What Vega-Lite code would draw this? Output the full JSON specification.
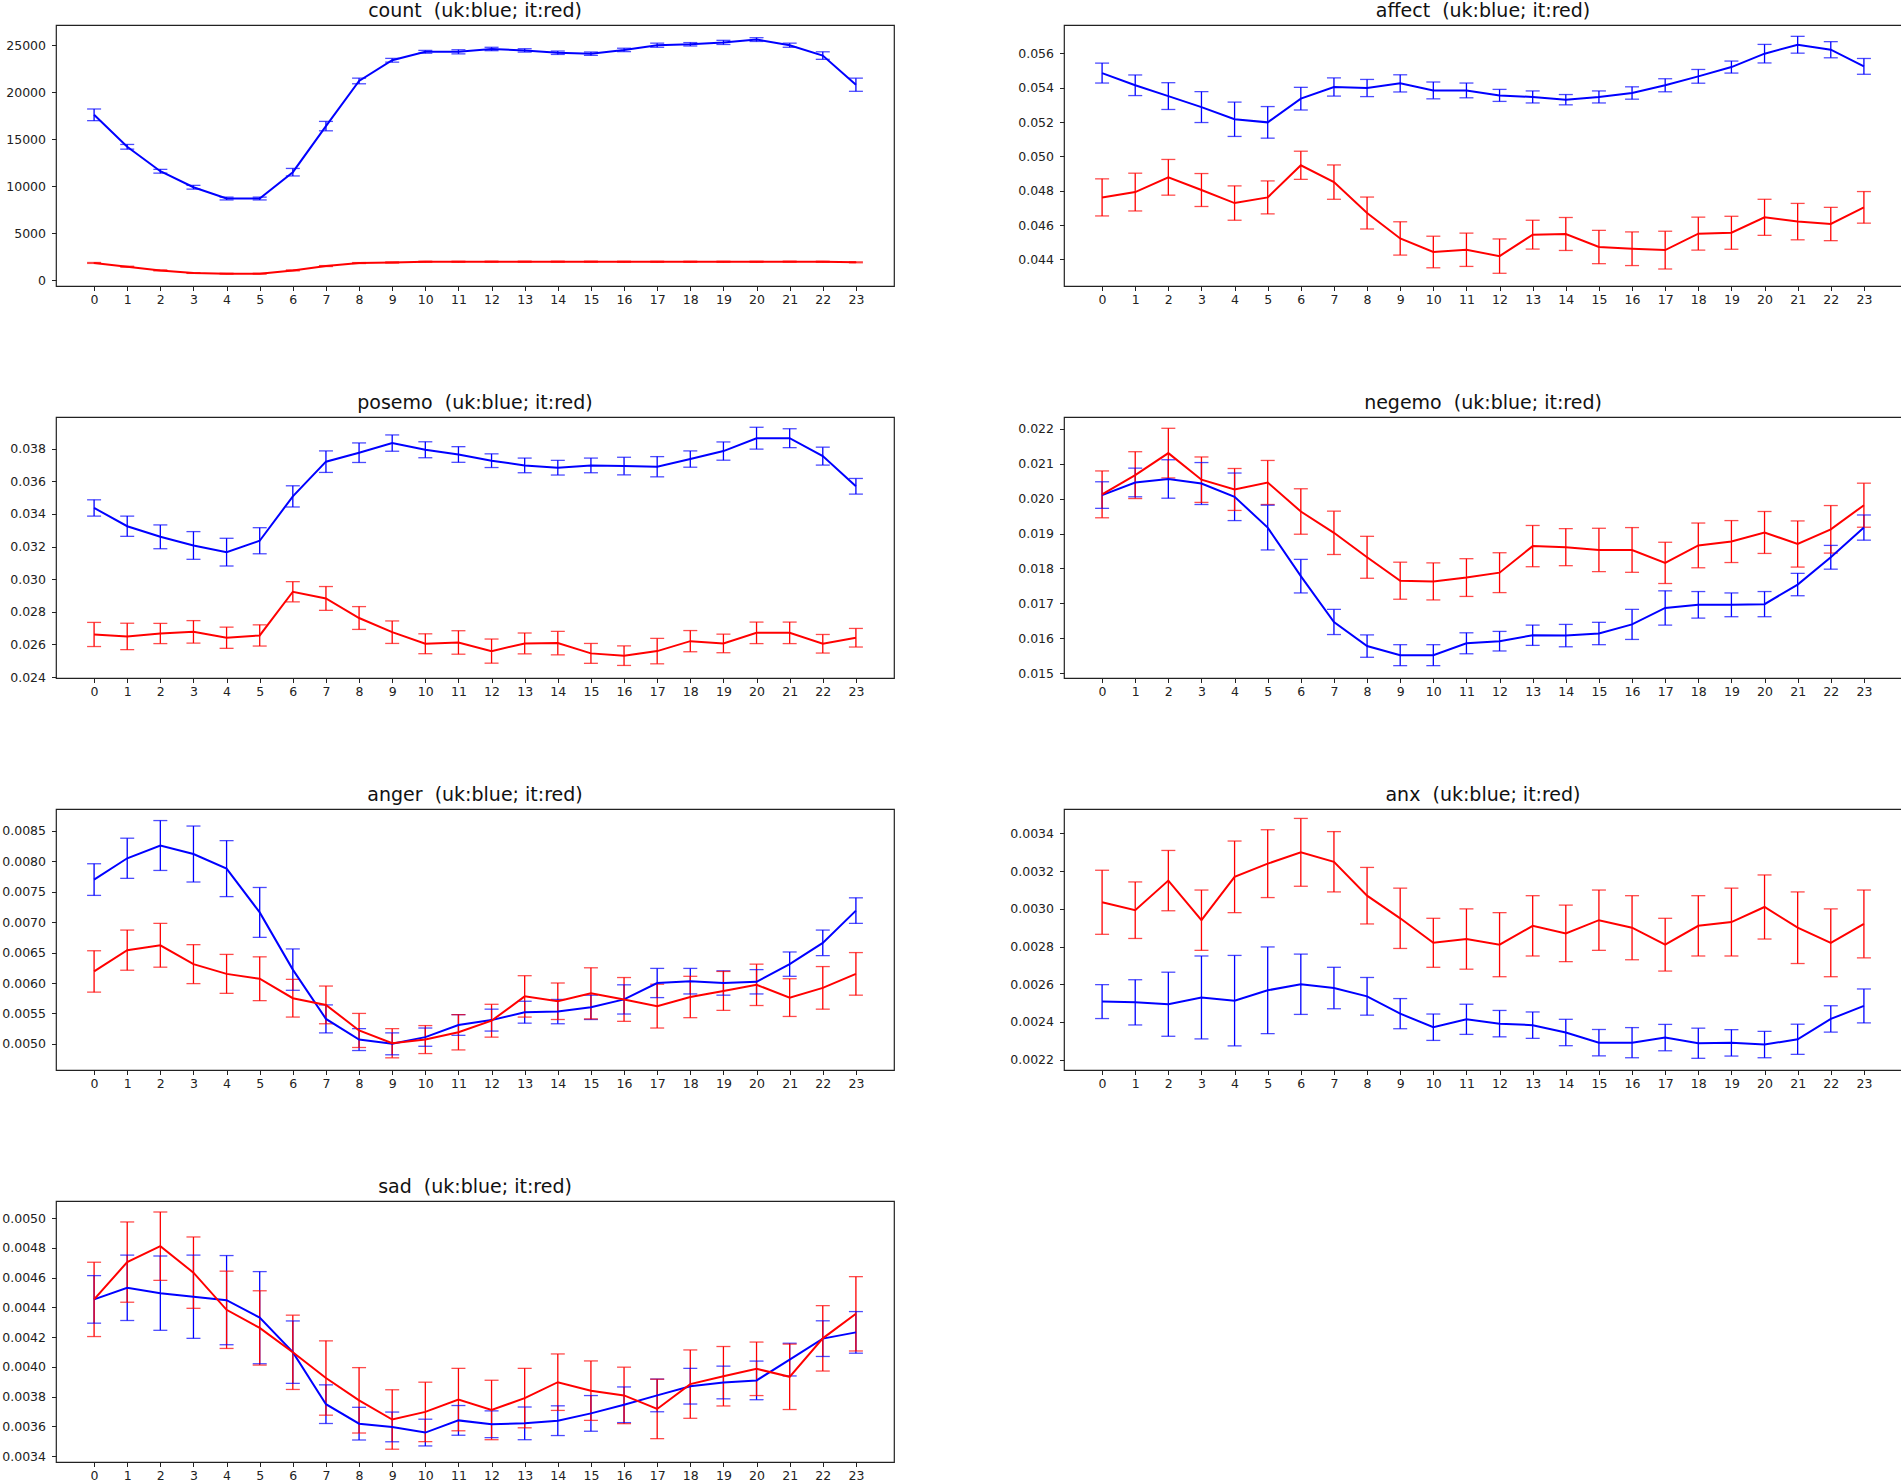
{
"$schema": "https://vega.github.io/schema/vega-lite/v6.json",
"padding": {"top": 1, "left": 0, "right": 0, "bottom": 0},
"config": {
 "font": "DejaVu Sans",
 "view": {"stroke": "#222", "strokeWidth": 1.2},
 "axis": {"grid": false, "domain": false, "ticks": true, "tickColor": "#222", "tickSize": 4.5, "tickWidth": 1, "labelFontSize": 12.5, "labelColor": "#222", "labelFont": "DejaVu Sans", "title": null, "labelOverlap": false},
 "axisX": {"labelPadding": 3, "labelAngle": 0, "minExtent": 25, "maxExtent": 25, "labelFlush": false},
 "axisY": {"labelPadding": 6, "minExtent": 55, "maxExtent": 55},
 "title": {"fontSize": 19, "fontWeight": "normal", "color": "#111", "offset": 4, "baseline": "alphabetic", "anchor": "middle", "font": "DejaVu Sans"}
},
"datasets": {
"count": [
{"h":0,"c":"uk","m":17600,"lo":16980,"hi":18220},{"h":1,"c":"uk","m":14200,"lo":13950,"hi":14450},{"h":2,"c":"uk","m":11600,"lo":11400,"hi":11800},{"h":3,"c":"uk","m":9900,"lo":9700,"hi":10100},{"h":4,"c":"uk","m":8700,"lo":8550,"hi":8850},{"h":5,"c":"uk","m":8700,"lo":8550,"hi":8850},{"h":6,"c":"uk","m":11500,"lo":11100,"hi":11900},{"h":7,"c":"uk","m":16400,"lo":15900,"hi":16900},{"h":8,"c":"uk","m":21200,"lo":20900,"hi":21500},{"h":9,"c":"uk","m":23400,"lo":23200,"hi":23600},{"h":10,"c":"uk","m":24300,"lo":24150,"hi":24450},{"h":11,"c":"uk","m":24300,"lo":24080,"hi":24520},{"h":12,"c":"uk","m":24600,"lo":24420,"hi":24780},{"h":13,"c":"uk","m":24450,"lo":24270,"hi":24630},{"h":14,"c":"uk","m":24200,"lo":24020,"hi":24380},{"h":15,"c":"uk","m":24100,"lo":23920,"hi":24280},{"h":16,"c":"uk","m":24500,"lo":24320,"hi":24680},{"h":17,"c":"uk","m":25000,"lo":24780,"hi":25220},{"h":18,"c":"uk","m":25100,"lo":24920,"hi":25280},{"h":19,"c":"uk","m":25300,"lo":25080,"hi":25520},{"h":20,"c":"uk","m":25600,"lo":25400,"hi":25800},{"h":21,"c":"uk","m":25000,"lo":24780,"hi":25220},{"h":22,"c":"uk","m":23900,"lo":23500,"hi":24300},{"h":23,"c":"uk","m":20800,"lo":20100,"hi":21500},
{"h":0,"c":"it","m":1850,"lo":1800,"hi":1900},{"h":1,"c":"it","m":1450,"lo":1400,"hi":1500},{"h":2,"c":"it","m":1060,"lo":1010,"hi":1110},{"h":3,"c":"it","m":780,"lo":740,"hi":820},{"h":4,"c":"it","m":710,"lo":670,"hi":750},{"h":5,"c":"it","m":710,"lo":670,"hi":750},{"h":6,"c":"it","m":1060,"lo":1010,"hi":1110},{"h":7,"c":"it","m":1520,"lo":1470,"hi":1570},{"h":8,"c":"it","m":1840,"lo":1790,"hi":1890},{"h":9,"c":"it","m":1900,"lo":1840,"hi":1960},{"h":10,"c":"it","m":1980,"lo":1930,"hi":2030},{"h":11,"c":"it","m":1980,"lo":1930,"hi":2030},{"h":12,"c":"it","m":1990,"lo":1940,"hi":2040},{"h":13,"c":"it","m":1990,"lo":1940,"hi":2040},{"h":14,"c":"it","m":1990,"lo":1940,"hi":2040},{"h":15,"c":"it","m":1990,"lo":1940,"hi":2040},{"h":16,"c":"it","m":1980,"lo":1930,"hi":2030},{"h":17,"c":"it","m":1980,"lo":1930,"hi":2030},{"h":18,"c":"it","m":1980,"lo":1930,"hi":2030},{"h":19,"c":"it","m":1980,"lo":1930,"hi":2030},{"h":20,"c":"it","m":1980,"lo":1930,"hi":2030},{"h":21,"c":"it","m":1990,"lo":1940,"hi":2040},{"h":22,"c":"it","m":1980,"lo":1930,"hi":2030},{"h":23,"c":"it","m":1920,"lo":1870,"hi":1970}
],
"affect": [
{"h":0,"c":"uk","m":0.05485,"lo":0.05427,"hi":0.05543},{"h":1,"c":"uk","m":0.05414,"lo":0.05354,"hi":0.05474},{"h":2,"c":"uk","m":0.05351,"lo":0.05273,"hi":0.05429},{"h":3,"c":"uk","m":0.05287,"lo":0.05197,"hi":0.05377},{"h":4,"c":"uk","m":0.05216,"lo":0.05116,"hi":0.05316},{"h":5,"c":"uk","m":0.05198,"lo":0.05106,"hi":0.0529},{"h":6,"c":"uk","m":0.05336,"lo":0.0527,"hi":0.05402},{"h":7,"c":"uk","m":0.05404,"lo":0.05351,"hi":0.05457},{"h":8,"c":"uk","m":0.05398,"lo":0.05348,"hi":0.05448},{"h":9,"c":"uk","m":0.05425,"lo":0.05375,"hi":0.05475},{"h":10,"c":"uk","m":0.05384,"lo":0.05335,"hi":0.05433},{"h":11,"c":"uk","m":0.05384,"lo":0.05341,"hi":0.05427},{"h":12,"c":"uk","m":0.05355,"lo":0.0532,"hi":0.0539},{"h":13,"c":"uk","m":0.05346,"lo":0.05311,"hi":0.05381},{"h":14,"c":"uk","m":0.0533,"lo":0.053,"hi":0.0536},{"h":15,"c":"uk","m":0.05346,"lo":0.05311,"hi":0.05381},{"h":16,"c":"uk","m":0.05369,"lo":0.05333,"hi":0.05405},{"h":17,"c":"uk","m":0.05414,"lo":0.05376,"hi":0.05452},{"h":18,"c":"uk","m":0.05466,"lo":0.05426,"hi":0.05506},{"h":19,"c":"uk","m":0.0552,"lo":0.05485,"hi":0.05555},{"h":20,"c":"uk","m":0.05598,"lo":0.05544,"hi":0.05652},{"h":21,"c":"uk","m":0.0565,"lo":0.05601,"hi":0.05699},{"h":22,"c":"uk","m":0.05621,"lo":0.05574,"hi":0.05668},{"h":23,"c":"uk","m":0.05524,"lo":0.05478,"hi":0.0557},
{"h":0,"c":"it","m":0.04761,"lo":0.04653,"hi":0.04869},{"h":1,"c":"it","m":0.04792,"lo":0.04682,"hi":0.04902},{"h":2,"c":"it","m":0.04878,"lo":0.04774,"hi":0.04982},{"h":3,"c":"it","m":0.04804,"lo":0.04708,"hi":0.049},{"h":4,"c":"it","m":0.04728,"lo":0.04628,"hi":0.04828},{"h":5,"c":"it","m":0.04761,"lo":0.04665,"hi":0.04857},{"h":6,"c":"it","m":0.04948,"lo":0.04866,"hi":0.0503},{"h":7,"c":"it","m":0.0485,"lo":0.0475,"hi":0.0495},{"h":8,"c":"it","m":0.0467,"lo":0.04577,"hi":0.04763},{"h":9,"c":"it","m":0.04522,"lo":0.04425,"hi":0.04619},{"h":10,"c":"it","m":0.04443,"lo":0.04351,"hi":0.04535},{"h":11,"c":"it","m":0.04456,"lo":0.04359,"hi":0.04553},{"h":12,"c":"it","m":0.04419,"lo":0.04319,"hi":0.04519},{"h":13,"c":"it","m":0.04544,"lo":0.0446,"hi":0.04628},{"h":14,"c":"it","m":0.04548,"lo":0.04452,"hi":0.04644},{"h":15,"c":"it","m":0.04472,"lo":0.04375,"hi":0.04569},{"h":16,"c":"it","m":0.04462,"lo":0.04364,"hi":0.0456},{"h":17,"c":"it","m":0.04454,"lo":0.04344,"hi":0.04564},{"h":18,"c":"it","m":0.0455,"lo":0.04454,"hi":0.04646},{"h":19,"c":"it","m":0.04555,"lo":0.04459,"hi":0.04651},{"h":20,"c":"it","m":0.04645,"lo":0.0454,"hi":0.0475},{"h":21,"c":"it","m":0.0462,"lo":0.04514,"hi":0.04726},{"h":22,"c":"it","m":0.04606,"lo":0.04509,"hi":0.04703},{"h":23,"c":"it","m":0.04703,"lo":0.04611,"hi":0.04795}
],
"posemo": [
{"h":0,"c":"uk","m":0.03437,"lo":0.03387,"hi":0.03487},{"h":1,"c":"uk","m":0.03325,"lo":0.03263,"hi":0.03387},{"h":2,"c":"uk","m":0.0326,"lo":0.03187,"hi":0.03333},{"h":3,"c":"uk","m":0.03207,"lo":0.03122,"hi":0.03292},{"h":4,"c":"uk","m":0.03166,"lo":0.03081,"hi":0.03251},{"h":5,"c":"uk","m":0.03236,"lo":0.03156,"hi":0.03316},{"h":6,"c":"uk","m":0.03508,"lo":0.03443,"hi":0.03573},{"h":7,"c":"uk","m":0.03721,"lo":0.03655,"hi":0.03787},{"h":8,"c":"uk","m":0.03776,"lo":0.03716,"hi":0.03836},{"h":9,"c":"uk","m":0.03835,"lo":0.03785,"hi":0.03885},{"h":10,"c":"uk","m":0.03794,"lo":0.03745,"hi":0.03843},{"h":11,"c":"uk","m":0.03765,"lo":0.03717,"hi":0.03813},{"h":12,"c":"uk","m":0.03727,"lo":0.03685,"hi":0.03769},{"h":13,"c":"uk","m":0.03698,"lo":0.03653,"hi":0.03743},{"h":14,"c":"uk","m":0.03684,"lo":0.03639,"hi":0.03729},{"h":15,"c":"uk","m":0.03698,"lo":0.03653,"hi":0.03743},{"h":16,"c":"uk","m":0.03694,"lo":0.0364,"hi":0.03748},{"h":17,"c":"uk","m":0.0369,"lo":0.03628,"hi":0.03752},{"h":18,"c":"uk","m":0.03737,"lo":0.03687,"hi":0.03787},{"h":19,"c":"uk","m":0.03786,"lo":0.0373,"hi":0.03842},{"h":20,"c":"uk","m":0.03865,"lo":0.03798,"hi":0.03932},{"h":21,"c":"uk","m":0.03865,"lo":0.03807,"hi":0.03923},{"h":22,"c":"uk","m":0.03755,"lo":0.037,"hi":0.0381},{"h":23,"c":"uk","m":0.0357,"lo":0.03522,"hi":0.03618},
{"h":0,"c":"it","m":0.02661,"lo":0.02587,"hi":0.02735},{"h":1,"c":"it","m":0.02649,"lo":0.02568,"hi":0.0273},{"h":2,"c":"it","m":0.02667,"lo":0.02605,"hi":0.02729},{"h":3,"c":"it","m":0.02677,"lo":0.02608,"hi":0.02746},{"h":4,"c":"it","m":0.02641,"lo":0.02576,"hi":0.02706},{"h":5,"c":"it","m":0.02655,"lo":0.0259,"hi":0.0272},{"h":6,"c":"it","m":0.02923,"lo":0.02861,"hi":0.02985},{"h":7,"c":"it","m":0.02882,"lo":0.02809,"hi":0.02955},{"h":8,"c":"it","m":0.02762,"lo":0.02692,"hi":0.02832},{"h":9,"c":"it","m":0.02675,"lo":0.02606,"hi":0.02744},{"h":10,"c":"it","m":0.02604,"lo":0.02543,"hi":0.02665},{"h":11,"c":"it","m":0.02612,"lo":0.0254,"hi":0.02684},{"h":12,"c":"it","m":0.02559,"lo":0.02485,"hi":0.02633},{"h":13,"c":"it","m":0.02606,"lo":0.02542,"hi":0.0267},{"h":14,"c":"it","m":0.02608,"lo":0.02536,"hi":0.0268},{"h":15,"c":"it","m":0.02545,"lo":0.02484,"hi":0.02606},{"h":16,"c":"it","m":0.02531,"lo":0.02471,"hi":0.02591},{"h":17,"c":"it","m":0.02559,"lo":0.02481,"hi":0.02637},{"h":18,"c":"it","m":0.0262,"lo":0.02555,"hi":0.02685},{"h":19,"c":"it","m":0.02606,"lo":0.02549,"hi":0.02663},{"h":20,"c":"it","m":0.02671,"lo":0.02605,"hi":0.02737},{"h":21,"c":"it","m":0.02671,"lo":0.02605,"hi":0.02737},{"h":22,"c":"it","m":0.02604,"lo":0.02547,"hi":0.02661},{"h":23,"c":"it","m":0.02641,"lo":0.02584,"hi":0.02698}
],
"negemo": [
{"h":0,"c":"uk","m":0.0201,"lo":0.01972,"hi":0.02048},{"h":1,"c":"uk","m":0.02046,"lo":0.02005,"hi":0.02087},{"h":2,"c":"uk","m":0.02056,"lo":0.02001,"hi":0.02111},{"h":3,"c":"uk","m":0.02043,"lo":0.01983,"hi":0.02103},{"h":4,"c":"uk","m":0.02005,"lo":0.01937,"hi":0.02073},{"h":5,"c":"uk","m":0.01917,"lo":0.01853,"hi":0.01981},{"h":6,"c":"uk","m":0.01778,"lo":0.0173,"hi":0.01826},{"h":7,"c":"uk","m":0.01647,"lo":0.01611,"hi":0.01683},{"h":8,"c":"uk","m":0.01578,"lo":0.01546,"hi":0.0161},{"h":9,"c":"uk","m":0.01552,"lo":0.01522,"hi":0.01582},{"h":10,"c":"uk","m":0.01552,"lo":0.01522,"hi":0.01582},{"h":11,"c":"uk","m":0.01586,"lo":0.01556,"hi":0.01616},{"h":12,"c":"uk","m":0.01592,"lo":0.01564,"hi":0.0162},{"h":13,"c":"uk","m":0.01609,"lo":0.0158,"hi":0.01638},{"h":14,"c":"uk","m":0.01608,"lo":0.01576,"hi":0.0164},{"h":15,"c":"uk","m":0.01614,"lo":0.01582,"hi":0.01646},{"h":16,"c":"uk","m":0.0164,"lo":0.01597,"hi":0.01683},{"h":17,"c":"uk","m":0.01687,"lo":0.01638,"hi":0.01736},{"h":18,"c":"uk","m":0.01696,"lo":0.01658,"hi":0.01734},{"h":19,"c":"uk","m":0.01696,"lo":0.01662,"hi":0.0173},{"h":20,"c":"uk","m":0.01698,"lo":0.01662,"hi":0.01734},{"h":21,"c":"uk","m":0.01754,"lo":0.01722,"hi":0.01786},{"h":22,"c":"uk","m":0.01832,"lo":0.01798,"hi":0.01866},{"h":23,"c":"uk","m":0.01917,"lo":0.01881,"hi":0.01953},
{"h":0,"c":"it","m":0.02012,"lo":0.01945,"hi":0.02079},{"h":1,"c":"it","m":0.02067,"lo":0.02,"hi":0.02134},{"h":2,"c":"it","m":0.0213,"lo":0.02059,"hi":0.02201},{"h":3,"c":"it","m":0.02054,"lo":0.01989,"hi":0.02119},{"h":4,"c":"it","m":0.02026,"lo":0.01966,"hi":0.02086},{"h":5,"c":"it","m":0.02046,"lo":0.01983,"hi":0.02109},{"h":6,"c":"it","m":0.01963,"lo":0.01898,"hi":0.02028},{"h":7,"c":"it","m":0.01902,"lo":0.0184,"hi":0.01964},{"h":8,"c":"it","m":0.01832,"lo":0.01772,"hi":0.01892},{"h":9,"c":"it","m":0.01765,"lo":0.01712,"hi":0.01818},{"h":10,"c":"it","m":0.01763,"lo":0.0171,"hi":0.01816},{"h":11,"c":"it","m":0.01774,"lo":0.0172,"hi":0.01828},{"h":12,"c":"it","m":0.01788,"lo":0.01731,"hi":0.01845},{"h":13,"c":"it","m":0.01864,"lo":0.01805,"hi":0.01923},{"h":14,"c":"it","m":0.01861,"lo":0.01808,"hi":0.01914},{"h":15,"c":"it","m":0.01853,"lo":0.01791,"hi":0.01915},{"h":16,"c":"it","m":0.01853,"lo":0.01789,"hi":0.01917},{"h":17,"c":"it","m":0.01816,"lo":0.01757,"hi":0.01875},{"h":18,"c":"it","m":0.01866,"lo":0.01802,"hi":0.0193},{"h":19,"c":"it","m":0.01877,"lo":0.01817,"hi":0.01937},{"h":20,"c":"it","m":0.01903,"lo":0.01843,"hi":0.01963},{"h":21,"c":"it","m":0.0187,"lo":0.01804,"hi":0.01936},{"h":22,"c":"it","m":0.01912,"lo":0.01844,"hi":0.0198},{"h":23,"c":"it","m":0.01981,"lo":0.01918,"hi":0.02044}
],
"anger": [
{"h":0,"c":"uk","m":0.0077,"lo":0.00744,"hi":0.00796},{"h":1,"c":"uk","m":0.00805,"lo":0.00772,"hi":0.00838},{"h":2,"c":"uk","m":0.00826,"lo":0.00785,"hi":0.00867},{"h":3,"c":"uk","m":0.00812,"lo":0.00766,"hi":0.00858},{"h":4,"c":"uk","m":0.00788,"lo":0.00742,"hi":0.00834},{"h":5,"c":"uk","m":0.00716,"lo":0.00675,"hi":0.00757},{"h":6,"c":"uk","m":0.00622,"lo":0.00588,"hi":0.00656},{"h":7,"c":"uk","m":0.00541,"lo":0.00518,"hi":0.00564},{"h":8,"c":"uk","m":0.00507,"lo":0.00489,"hi":0.00525},{"h":9,"c":"uk","m":0.005,"lo":0.00482,"hi":0.00518},{"h":10,"c":"uk","m":0.00511,"lo":0.00496,"hi":0.00526},{"h":11,"c":"uk","m":0.00531,"lo":0.00514,"hi":0.00548},{"h":12,"c":"uk","m":0.00539,"lo":0.00521,"hi":0.00557},{"h":13,"c":"uk","m":0.00552,"lo":0.00534,"hi":0.0057},{"h":14,"c":"uk","m":0.00553,"lo":0.00533,"hi":0.00573},{"h":15,"c":"uk","m":0.0056,"lo":0.0054,"hi":0.0058},{"h":16,"c":"uk","m":0.00573,"lo":0.00549,"hi":0.00597},{"h":17,"c":"uk","m":0.006,"lo":0.00576,"hi":0.00624},{"h":18,"c":"uk","m":0.00603,"lo":0.00582,"hi":0.00624},{"h":19,"c":"uk","m":0.006,"lo":0.0058,"hi":0.0062},{"h":20,"c":"uk","m":0.00602,"lo":0.00582,"hi":0.00622},{"h":21,"c":"uk","m":0.00631,"lo":0.00611,"hi":0.00651},{"h":22,"c":"uk","m":0.00666,"lo":0.00645,"hi":0.00687},{"h":23,"c":"uk","m":0.00719,"lo":0.00698,"hi":0.0074},
{"h":0,"c":"it","m":0.00619,"lo":0.00585,"hi":0.00653},{"h":1,"c":"it","m":0.00654,"lo":0.00621,"hi":0.00687},{"h":2,"c":"it","m":0.00662,"lo":0.00626,"hi":0.00698},{"h":3,"c":"it","m":0.00631,"lo":0.00599,"hi":0.00663},{"h":4,"c":"it","m":0.00615,"lo":0.00583,"hi":0.00647},{"h":5,"c":"it","m":0.00607,"lo":0.00571,"hi":0.00643},{"h":6,"c":"it","m":0.00575,"lo":0.00544,"hi":0.00606},{"h":7,"c":"it","m":0.00564,"lo":0.00533,"hi":0.00595},{"h":8,"c":"it","m":0.00522,"lo":0.00494,"hi":0.0055},{"h":9,"c":"it","m":0.00501,"lo":0.00477,"hi":0.00525},{"h":10,"c":"it","m":0.00507,"lo":0.00484,"hi":0.0053},{"h":11,"c":"it","m":0.00519,"lo":0.0049,"hi":0.00548},{"h":12,"c":"it","m":0.00538,"lo":0.00511,"hi":0.00565},{"h":13,"c":"it","m":0.00578,"lo":0.00544,"hi":0.00612},{"h":14,"c":"it","m":0.0057,"lo":0.0054,"hi":0.006},{"h":15,"c":"it","m":0.00583,"lo":0.00541,"hi":0.00625},{"h":16,"c":"it","m":0.00573,"lo":0.00537,"hi":0.00609},{"h":17,"c":"it","m":0.00562,"lo":0.00526,"hi":0.00598},{"h":18,"c":"it","m":0.00577,"lo":0.00543,"hi":0.00611},{"h":19,"c":"it","m":0.00587,"lo":0.00555,"hi":0.00619},{"h":20,"c":"it","m":0.00597,"lo":0.00563,"hi":0.00631},{"h":21,"c":"it","m":0.00576,"lo":0.00545,"hi":0.00607},{"h":22,"c":"it","m":0.00592,"lo":0.00557,"hi":0.00627},{"h":23,"c":"it","m":0.00615,"lo":0.0058,"hi":0.0065}
],
"anx": [
{"h":0,"c":"uk","m":0.002508,"lo":0.002418,"hi":0.002598},{"h":1,"c":"uk","m":0.002504,"lo":0.002384,"hi":0.002624},{"h":2,"c":"uk","m":0.002494,"lo":0.002324,"hi":0.002664},{"h":3,"c":"uk","m":0.00253,"lo":0.00231,"hi":0.00275},{"h":4,"c":"uk","m":0.002513,"lo":0.002273,"hi":0.002753},{"h":5,"c":"uk","m":0.002568,"lo":0.002338,"hi":0.002798},{"h":6,"c":"uk","m":0.0026,"lo":0.00244,"hi":0.00276},{"h":7,"c":"uk","m":0.00258,"lo":0.00247,"hi":0.00269},{"h":8,"c":"uk","m":0.002536,"lo":0.002436,"hi":0.002636},{"h":9,"c":"uk","m":0.002444,"lo":0.002364,"hi":0.002524},{"h":10,"c":"uk","m":0.002372,"lo":0.002302,"hi":0.002442},{"h":11,"c":"uk","m":0.002414,"lo":0.002334,"hi":0.002494},{"h":12,"c":"uk","m":0.002391,"lo":0.002321,"hi":0.002461},{"h":13,"c":"uk","m":0.002383,"lo":0.002313,"hi":0.002453},{"h":14,"c":"uk","m":0.002344,"lo":0.002274,"hi":0.002414},{"h":15,"c":"uk","m":0.00229,"lo":0.00222,"hi":0.00236},{"h":16,"c":"uk","m":0.00229,"lo":0.00221,"hi":0.00237},{"h":17,"c":"uk","m":0.002317,"lo":0.002247,"hi":0.002387},{"h":18,"c":"uk","m":0.002287,"lo":0.002207,"hi":0.002367},{"h":19,"c":"uk","m":0.002289,"lo":0.002219,"hi":0.002359},{"h":20,"c":"uk","m":0.00228,"lo":0.00221,"hi":0.00235},{"h":21,"c":"uk","m":0.002308,"lo":0.002228,"hi":0.002388},{"h":22,"c":"uk","m":0.002416,"lo":0.002346,"hi":0.002486},{"h":23,"c":"uk","m":0.002485,"lo":0.002395,"hi":0.002575},
{"h":0,"c":"it","m":0.003035,"lo":0.002865,"hi":0.003205},{"h":1,"c":"it","m":0.002993,"lo":0.002843,"hi":0.003143},{"h":2,"c":"it","m":0.00315,"lo":0.00299,"hi":0.00331},{"h":3,"c":"it","m":0.00294,"lo":0.00278,"hi":0.0031},{"h":4,"c":"it","m":0.00317,"lo":0.00298,"hi":0.00336},{"h":5,"c":"it","m":0.00324,"lo":0.00306,"hi":0.00342},{"h":6,"c":"it","m":0.0033,"lo":0.00312,"hi":0.00348},{"h":7,"c":"it","m":0.00325,"lo":0.00309,"hi":0.00341},{"h":8,"c":"it","m":0.00307,"lo":0.00292,"hi":0.00322},{"h":9,"c":"it","m":0.00295,"lo":0.00279,"hi":0.00311},{"h":10,"c":"it","m":0.00282,"lo":0.00269,"hi":0.00295},{"h":11,"c":"it","m":0.00284,"lo":0.00268,"hi":0.003},{"h":12,"c":"it","m":0.00281,"lo":0.00264,"hi":0.00298},{"h":13,"c":"it","m":0.00291,"lo":0.00275,"hi":0.00307},{"h":14,"c":"it","m":0.00287,"lo":0.00272,"hi":0.00302},{"h":15,"c":"it","m":0.00294,"lo":0.00278,"hi":0.0031},{"h":16,"c":"it","m":0.0029,"lo":0.00273,"hi":0.00307},{"h":17,"c":"it","m":0.00281,"lo":0.00267,"hi":0.00295},{"h":18,"c":"it","m":0.00291,"lo":0.00275,"hi":0.00307},{"h":19,"c":"it","m":0.00293,"lo":0.00275,"hi":0.00311},{"h":20,"c":"it","m":0.00301,"lo":0.00284,"hi":0.00318},{"h":21,"c":"it","m":0.0029,"lo":0.00271,"hi":0.00309},{"h":22,"c":"it","m":0.00282,"lo":0.00264,"hi":0.003},{"h":23,"c":"it","m":0.00292,"lo":0.00274,"hi":0.0031}
],
"sad": [
{"h":0,"c":"uk","m":0.004454,"lo":0.004294,"hi":0.004614},{"h":1,"c":"uk","m":0.004532,"lo":0.004312,"hi":0.004752},{"h":2,"c":"uk","m":0.004496,"lo":0.004246,"hi":0.004746},{"h":3,"c":"uk","m":0.004472,"lo":0.004192,"hi":0.004752},{"h":4,"c":"uk","m":0.004449,"lo":0.004149,"hi":0.004749},{"h":5,"c":"uk","m":0.004331,"lo":0.004021,"hi":0.004641},{"h":6,"c":"uk","m":0.004099,"lo":0.003889,"hi":0.004309},{"h":7,"c":"uk","m":0.003749,"lo":0.003619,"hi":0.003879},{"h":8,"c":"uk","m":0.003618,"lo":0.003508,"hi":0.003728},{"h":9,"c":"uk","m":0.003596,"lo":0.003496,"hi":0.003696},{"h":10,"c":"uk","m":0.003558,"lo":0.003468,"hi":0.003648},{"h":11,"c":"uk","m":0.00364,"lo":0.00354,"hi":0.00374},{"h":12,"c":"uk","m":0.003614,"lo":0.003524,"hi":0.003704},{"h":13,"c":"uk","m":0.00362,"lo":0.00351,"hi":0.00373},{"h":14,"c":"uk","m":0.003638,"lo":0.003538,"hi":0.003738},{"h":15,"c":"uk","m":0.003687,"lo":0.003567,"hi":0.003807},{"h":16,"c":"uk","m":0.003745,"lo":0.003625,"hi":0.003865},{"h":17,"c":"uk","m":0.003808,"lo":0.003698,"hi":0.003918},{"h":18,"c":"uk","m":0.00387,"lo":0.00375,"hi":0.00399},{"h":19,"c":"uk","m":0.003895,"lo":0.003785,"hi":0.004005},{"h":20,"c":"uk","m":0.003909,"lo":0.003779,"hi":0.004039},{"h":21,"c":"uk","m":0.004049,"lo":0.003939,"hi":0.004159},{"h":22,"c":"uk","m":0.00419,"lo":0.00407,"hi":0.00431},{"h":23,"c":"uk","m":0.004232,"lo":0.004092,"hi":0.004372},
{"h":0,"c":"it","m":0.004454,"lo":0.004204,"hi":0.004704},{"h":1,"c":"it","m":0.004705,"lo":0.004435,"hi":0.004975},{"h":2,"c":"it","m":0.004812,"lo":0.004582,"hi":0.005042},{"h":3,"c":"it","m":0.004634,"lo":0.004394,"hi":0.004874},{"h":4,"c":"it","m":0.004384,"lo":0.004124,"hi":0.004644},{"h":5,"c":"it","m":0.004262,"lo":0.004012,"hi":0.004512},{"h":6,"c":"it","m":0.004098,"lo":0.003848,"hi":0.004348},{"h":7,"c":"it","m":0.003925,"lo":0.003675,"hi":0.004175},{"h":8,"c":"it","m":0.003775,"lo":0.003555,"hi":0.003995},{"h":9,"c":"it","m":0.003646,"lo":0.003446,"hi":0.003846},{"h":10,"c":"it","m":0.003697,"lo":0.003497,"hi":0.003897},{"h":11,"c":"it","m":0.00378,"lo":0.00357,"hi":0.00399},{"h":12,"c":"it","m":0.00371,"lo":0.00351,"hi":0.00391},{"h":13,"c":"it","m":0.00379,"lo":0.00359,"hi":0.00399},{"h":14,"c":"it","m":0.003897,"lo":0.003707,"hi":0.004087},{"h":15,"c":"it","m":0.00384,"lo":0.00364,"hi":0.00404},{"h":16,"c":"it","m":0.003808,"lo":0.003618,"hi":0.003998},{"h":17,"c":"it","m":0.003717,"lo":0.003517,"hi":0.003917},{"h":18,"c":"it","m":0.003884,"lo":0.003654,"hi":0.004114},{"h":19,"c":"it","m":0.003937,"lo":0.003737,"hi":0.004137},{"h":20,"c":"it","m":0.003987,"lo":0.003807,"hi":0.004167},{"h":21,"c":"it","m":0.003933,"lo":0.003713,"hi":0.004153},{"h":22,"c":"it","m":0.004192,"lo":0.003972,"hi":0.004412},{"h":23,"c":"it","m":0.004357,"lo":0.004107,"hi":0.004607}
]
},
"columns": 2,
"spacing": {"row": 81, "column": 113},
"concat": [
{
 "title": "count\u00a0 (uk:blue; it:red)",
 "width": 838, "height": 261,
 "data": {"name": "count"},
 "encoding": {
  "x": {"field": "h", "type": "quantitative", "scale": {"domain": [-1.15, 24.15], "nice": false, "zero": false}, "axis": {"values": [0,1,2,3,4,5,6,7,8,9,10,11,12,13,14,15,16,17,18,19,20,21,22,23], "format": "d"}},
  "color": {"field": "c", "type": "nominal", "scale": {"domain": ["uk","it"], "range": ["#0000ff","#ff0000"]}, "legend": null}
 },
 "layer": [
  {"mark": {"type": "rule", "strokeWidth": 1.3}, "encoding": {"y": {"field": "lo", "type": "quantitative", "scale": {"domain": [-600, 27150], "nice": false, "zero": false}, "axis": {"values": [0,5000,10000,15000,20000,25000], "format": "d"}}, "y2": {"field": "hi"}}},
  {"mark": {"type": "tick", "orient": "horizontal", "size": 14, "thickness": 1.3}, "encoding": {"y": {"field": "lo", "type": "quantitative", "scale": {"domain": [-600, 27150], "nice": false, "zero": false}, "axis": {"values": [0,5000,10000,15000,20000,25000], "format": "d"}}}},
  {"mark": {"type": "tick", "orient": "horizontal", "size": 14, "thickness": 1.3}, "encoding": {"y": {"field": "hi", "type": "quantitative", "scale": {"domain": [-600, 27150], "nice": false, "zero": false}, "axis": {"values": [0,5000,10000,15000,20000,25000], "format": "d"}}}},
  {"mark": {"type": "line", "strokeWidth": 2}, "encoding": {"y": {"field": "m", "type": "quantitative", "scale": {"domain": [-600, 27150], "nice": false, "zero": false}, "axis": {"values": [0,5000,10000,15000,20000,25000], "format": "d"}}}}
 ]
},
{
 "title": "affect\u00a0 (uk:blue; it:red)",
 "width": 838, "height": 261,
 "data": {"name": "affect"},
 "encoding": {
  "x": {"field": "h", "type": "quantitative", "scale": {"domain": [-1.15, 24.15], "nice": false, "zero": false}, "axis": {"values": [0,1,2,3,4,5,6,7,8,9,10,11,12,13,14,15,16,17,18,19,20,21,22,23], "format": "d"}},
  "color": {"field": "c", "type": "nominal", "scale": {"domain": ["uk","it"], "range": ["#0000ff","#ff0000"]}, "legend": null}
 },
 "layer": [
  {"mark": {"type": "rule", "strokeWidth": 1.3}, "encoding": {"y": {"field": "lo", "type": "quantitative", "scale": {"domain": [0.04245, 0.05765], "nice": false, "zero": false}, "axis": {"values": [0.044,0.046,0.048,0.05,0.052,0.054,0.056], "format": ".3f"}}, "y2": {"field": "hi"}}},
  {"mark": {"type": "tick", "orient": "horizontal", "size": 14, "thickness": 1.3}, "encoding": {"y": {"field": "lo", "type": "quantitative", "scale": {"domain": [0.04245, 0.05765], "nice": false, "zero": false}, "axis": {"values": [0.044,0.046,0.048,0.05,0.052,0.054,0.056], "format": ".3f"}}}},
  {"mark": {"type": "tick", "orient": "horizontal", "size": 14, "thickness": 1.3}, "encoding": {"y": {"field": "hi", "type": "quantitative", "scale": {"domain": [0.04245, 0.05765], "nice": false, "zero": false}, "axis": {"values": [0.044,0.046,0.048,0.05,0.052,0.054,0.056], "format": ".3f"}}}},
  {"mark": {"type": "line", "strokeWidth": 2}, "encoding": {"y": {"field": "m", "type": "quantitative", "scale": {"domain": [0.04245, 0.05765], "nice": false, "zero": false}, "axis": {"values": [0.044,0.046,0.048,0.05,0.052,0.054,0.056], "format": ".3f"}}}}
 ]
},
{
 "title": "posemo\u00a0 (uk:blue; it:red)",
 "width": 838, "height": 261,
 "data": {"name": "posemo"},
 "encoding": {
  "x": {"field": "h", "type": "quantitative", "scale": {"domain": [-1.15, 24.15], "nice": false, "zero": false}, "axis": {"values": [0,1,2,3,4,5,6,7,8,9,10,11,12,13,14,15,16,17,18,19,20,21,22,23], "format": "d"}},
  "color": {"field": "c", "type": "nominal", "scale": {"domain": ["uk","it"], "range": ["#0000ff","#ff0000"]}, "legend": null}
 },
 "layer": [
  {"mark": {"type": "rule", "strokeWidth": 1.3}, "encoding": {"y": {"field": "lo", "type": "quantitative", "scale": {"domain": [0.02394, 0.03995], "nice": false, "zero": false}, "axis": {"values": [0.024,0.026,0.028,0.03,0.032,0.034,0.036,0.038], "format": ".3f"}}, "y2": {"field": "hi"}}},
  {"mark": {"type": "tick", "orient": "horizontal", "size": 14, "thickness": 1.3}, "encoding": {"y": {"field": "lo", "type": "quantitative", "scale": {"domain": [0.02394, 0.03995], "nice": false, "zero": false}, "axis": {"values": [0.024,0.026,0.028,0.03,0.032,0.034,0.036,0.038], "format": ".3f"}}}},
  {"mark": {"type": "tick", "orient": "horizontal", "size": 14, "thickness": 1.3}, "encoding": {"y": {"field": "hi", "type": "quantitative", "scale": {"domain": [0.02394, 0.03995], "nice": false, "zero": false}, "axis": {"values": [0.024,0.026,0.028,0.03,0.032,0.034,0.036,0.038], "format": ".3f"}}}},
  {"mark": {"type": "line", "strokeWidth": 2}, "encoding": {"y": {"field": "m", "type": "quantitative", "scale": {"domain": [0.02394, 0.03995], "nice": false, "zero": false}, "axis": {"values": [0.024,0.026,0.028,0.03,0.032,0.034,0.036,0.038], "format": ".3f"}}}}
 ]
},
{
 "title": "negemo\u00a0 (uk:blue; it:red)",
 "width": 838, "height": 261,
 "data": {"name": "negemo"},
 "encoding": {
  "x": {"field": "h", "type": "quantitative", "scale": {"domain": [-1.15, 24.15], "nice": false, "zero": false}, "axis": {"values": [0,1,2,3,4,5,6,7,8,9,10,11,12,13,14,15,16,17,18,19,20,21,22,23], "format": "d"}},
  "color": {"field": "c", "type": "nominal", "scale": {"domain": ["uk","it"], "range": ["#0000ff","#ff0000"]}, "legend": null}
 },
 "layer": [
  {"mark": {"type": "rule", "strokeWidth": 1.3}, "encoding": {"y": {"field": "lo", "type": "quantitative", "scale": {"domain": [0.014867, 0.022333], "nice": false, "zero": false}, "axis": {"values": [0.015,0.016,0.017,0.018,0.019,0.02,0.021,0.022], "format": ".3f"}}, "y2": {"field": "hi"}}},
  {"mark": {"type": "tick", "orient": "horizontal", "size": 14, "thickness": 1.3}, "encoding": {"y": {"field": "lo", "type": "quantitative", "scale": {"domain": [0.014867, 0.022333], "nice": false, "zero": false}, "axis": {"values": [0.015,0.016,0.017,0.018,0.019,0.02,0.021,0.022], "format": ".3f"}}}},
  {"mark": {"type": "tick", "orient": "horizontal", "size": 14, "thickness": 1.3}, "encoding": {"y": {"field": "hi", "type": "quantitative", "scale": {"domain": [0.014867, 0.022333], "nice": false, "zero": false}, "axis": {"values": [0.015,0.016,0.017,0.018,0.019,0.02,0.021,0.022], "format": ".3f"}}}},
  {"mark": {"type": "line", "strokeWidth": 2}, "encoding": {"y": {"field": "m", "type": "quantitative", "scale": {"domain": [0.014867, 0.022333], "nice": false, "zero": false}, "axis": {"values": [0.015,0.016,0.017,0.018,0.019,0.02,0.021,0.022], "format": ".3f"}}}}
 ]
},
{
 "title": "anger\u00a0 (uk:blue; it:red)",
 "width": 838, "height": 261,
 "data": {"name": "anger"},
 "encoding": {
  "x": {"field": "h", "type": "quantitative", "scale": {"domain": [-1.15, 24.15], "nice": false, "zero": false}, "axis": {"values": [0,1,2,3,4,5,6,7,8,9,10,11,12,13,14,15,16,17,18,19,20,21,22,23], "format": "d"}},
  "color": {"field": "c", "type": "nominal", "scale": {"domain": ["uk","it"], "range": ["#0000ff","#ff0000"]}, "legend": null}
 },
 "layer": [
  {"mark": {"type": "rule", "strokeWidth": 1.3}, "encoding": {"y": {"field": "lo", "type": "quantitative", "scale": {"domain": [0.00457, 0.00886], "nice": false, "zero": false}, "axis": {"values": [0.005,0.0055,0.006,0.0065,0.007,0.0075,0.008,0.0085], "format": ".4f"}}, "y2": {"field": "hi"}}},
  {"mark": {"type": "tick", "orient": "horizontal", "size": 14, "thickness": 1.3}, "encoding": {"y": {"field": "lo", "type": "quantitative", "scale": {"domain": [0.00457, 0.00886], "nice": false, "zero": false}, "axis": {"values": [0.005,0.0055,0.006,0.0065,0.007,0.0075,0.008,0.0085], "format": ".4f"}}}},
  {"mark": {"type": "tick", "orient": "horizontal", "size": 14, "thickness": 1.3}, "encoding": {"y": {"field": "hi", "type": "quantitative", "scale": {"domain": [0.00457, 0.00886], "nice": false, "zero": false}, "axis": {"values": [0.005,0.0055,0.006,0.0065,0.007,0.0075,0.008,0.0085], "format": ".4f"}}}},
  {"mark": {"type": "line", "strokeWidth": 2}, "encoding": {"y": {"field": "m", "type": "quantitative", "scale": {"domain": [0.00457, 0.00886], "nice": false, "zero": false}, "axis": {"values": [0.005,0.0055,0.006,0.0065,0.007,0.0075,0.008,0.0085], "format": ".4f"}}}}
 ]
},
{
 "title": "anx\u00a0 (uk:blue; it:red)",
 "width": 838, "height": 261,
 "data": {"name": "anx"},
 "encoding": {
  "x": {"field": "h", "type": "quantitative", "scale": {"domain": [-1.15, 24.15], "nice": false, "zero": false}, "axis": {"values": [0,1,2,3,4,5,6,7,8,9,10,11,12,13,14,15,16,17,18,19,20,21,22,23], "format": "d"}},
  "color": {"field": "c", "type": "nominal", "scale": {"domain": ["uk","it"], "range": ["#0000ff","#ff0000"]}, "legend": null}
 },
 "layer": [
  {"mark": {"type": "rule", "strokeWidth": 1.3}, "encoding": {"y": {"field": "lo", "type": "quantitative", "scale": {"domain": [0.002145, 0.00353], "nice": false, "zero": false}, "axis": {"values": [0.0022,0.0024,0.0026,0.0028,0.003,0.0032,0.0034], "format": ".4f"}}, "y2": {"field": "hi"}}},
  {"mark": {"type": "tick", "orient": "horizontal", "size": 14, "thickness": 1.3}, "encoding": {"y": {"field": "lo", "type": "quantitative", "scale": {"domain": [0.002145, 0.00353], "nice": false, "zero": false}, "axis": {"values": [0.0022,0.0024,0.0026,0.0028,0.003,0.0032,0.0034], "format": ".4f"}}}},
  {"mark": {"type": "tick", "orient": "horizontal", "size": 14, "thickness": 1.3}, "encoding": {"y": {"field": "hi", "type": "quantitative", "scale": {"domain": [0.002145, 0.00353], "nice": false, "zero": false}, "axis": {"values": [0.0022,0.0024,0.0026,0.0028,0.003,0.0032,0.0034], "format": ".4f"}}}},
  {"mark": {"type": "line", "strokeWidth": 2}, "encoding": {"y": {"field": "m", "type": "quantitative", "scale": {"domain": [0.002145, 0.00353], "nice": false, "zero": false}, "axis": {"values": [0.0022,0.0024,0.0026,0.0028,0.003,0.0032,0.0034], "format": ".4f"}}}}
 ]
},
{
 "title": "sad\u00a0 (uk:blue; it:red)",
 "width": 838, "height": 261,
 "data": {"name": "sad"},
 "encoding": {
  "x": {"field": "h", "type": "quantitative", "scale": {"domain": [-1.15, 24.15], "nice": false, "zero": false}, "axis": {"values": [0,1,2,3,4,5,6,7,8,9,10,11,12,13,14,15,16,17,18,19,20,21,22,23], "format": "d"}},
  "color": {"field": "c", "type": "nominal", "scale": {"domain": ["uk","it"], "range": ["#0000ff","#ff0000"]}, "legend": null}
 },
 "layer": [
  {"mark": {"type": "rule", "strokeWidth": 1.3}, "encoding": {"y": {"field": "lo", "type": "quantitative", "scale": {"domain": [0.00336, 0.005116], "nice": false, "zero": false}, "axis": {"values": [0.0034,0.0036,0.0038,0.004,0.0042,0.0044,0.0046,0.0048,0.005], "format": ".4f"}}, "y2": {"field": "hi"}}},
  {"mark": {"type": "tick", "orient": "horizontal", "size": 14, "thickness": 1.3}, "encoding": {"y": {"field": "lo", "type": "quantitative", "scale": {"domain": [0.00336, 0.005116], "nice": false, "zero": false}, "axis": {"values": [0.0034,0.0036,0.0038,0.004,0.0042,0.0044,0.0046,0.0048,0.005], "format": ".4f"}}}},
  {"mark": {"type": "tick", "orient": "horizontal", "size": 14, "thickness": 1.3}, "encoding": {"y": {"field": "hi", "type": "quantitative", "scale": {"domain": [0.00336, 0.005116], "nice": false, "zero": false}, "axis": {"values": [0.0034,0.0036,0.0038,0.004,0.0042,0.0044,0.0046,0.0048,0.005], "format": ".4f"}}}},
  {"mark": {"type": "line", "strokeWidth": 2}, "encoding": {"y": {"field": "m", "type": "quantitative", "scale": {"domain": [0.00336, 0.005116], "nice": false, "zero": false}, "axis": {"values": [0.0034,0.0036,0.0038,0.004,0.0042,0.0044,0.0046,0.0048,0.005], "format": ".4f"}}}}
 ]
}
]
}
